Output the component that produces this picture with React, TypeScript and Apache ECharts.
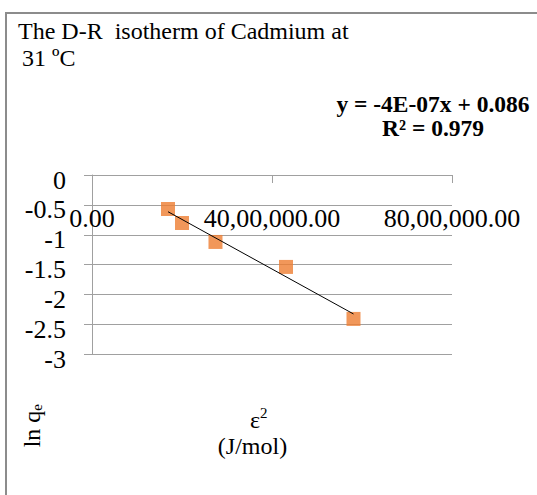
import React, { useEffect, useRef } from 'react';
import * as echarts from 'echarts';

// ---- data ----
const titleLines = ['The D-R  isotherm of Cadmium at', ' 31 ºC'];
const equationLines = ['y = -4E-07x + 0.086', 'R² = 0.979'];
const xAxisTitleMain = 'ε';
const xAxisTitleSup = '2';
const xAxisTitleUnit = '(J/mol)';
const yAxisTitleMain = 'ln q';
const yAxisTitleSub = 'e';

const epsilonSquared = [1689000, 2000000, 2744000, 4311000, 5811000];
const lnQe = [-0.569, -0.803, -1.12, -1.538, -2.408];

const xMin = 0;
const xMax = 8000000;
const xInterval = 4000000;
const yMin = -3;
const yMax = 0;
const yInterval = 0.5;

const FONT = 'Liberation Serif';

function indianFormat(v: number): string {
  const fixed = Math.abs(v).toFixed(2);
  const [intPart, dec] = fixed.split('.');
  let out = '';
  if (intPart.length <= 3) {
    out = intPart;
  } else {
    const last3 = intPart.slice(-3);
    let rest = intPart.slice(0, -3);
    const groups: string[] = [];
    while (rest.length > 2) {
      groups.unshift(rest.slice(-2));
      rest = rest.slice(0, -2);
    }
    if (rest.length) groups.unshift(rest);
    out = groups.join(',') + ',' + last3;
  }
  return (v < 0 ? '-' : '') + out + '.' + dec;
}

function linearFit(xs: number[], ys: number[]) {
  const n = xs.length;
  const mx = xs.reduce((a, b) => a + b, 0) / n;
  const my = ys.reduce((a, b) => a + b, 0) / n;
  let sxy = 0;
  let sxx = 0;
  for (let i = 0; i < n; i++) {
    sxy += (xs[i] - mx) * (ys[i] - my);
    sxx += (xs[i] - mx) * (xs[i] - mx);
  }
  const slope = sxy / sxx;
  return { slope, intercept: my - slope * mx };
}

export default function App() {
  const ref = useRef<HTMLDivElement>(null);

  useEffect(() => {
    if (!ref.current) return;
    const chart = echarts.init(ref.current, undefined, { renderer: 'svg' });
    const fit = linearFit(epsilonSquared, lnQe);
    const x0 = Math.min(...epsilonSquared);
    const x1 = Math.max(...epsilonSquared);
    const trend = [
      [x0, fit.slope * x0 + fit.intercept],
      [x1, fit.slope * x1 + fit.intercept],
    ];
    const scatterData = epsilonSquared.map((x, i) => [x, lnQe[i]]);
    const gridColor = '#a0a0a0';

    const txt = (text: string, x: number, y: number, size: number, align: string, extra: any = {}) => ({
      type: 'text',
      x,
      y,
      rotation: extra.rotation || 0,
      silent: true,
      style: {
        text,
        fill: '#000',
        fontSize: size,
        fontFamily: FONT,
        fontWeight: extra.bold ? 'bold' : 'normal',
        lineHeight: extra.lineHeight,
        align,
        verticalAlign: 'middle',
        rich: extra.rich,
      },
    });

    chart.setOption({
      animation: false,
      backgroundColor: '#ffffff',
      grid: { left: 92, top: 175, width: 360, height: 179.3, containLabel: false },
      xAxis: {
        type: 'value',
        min: xMin,
        max: xMax,
        interval: xInterval,
        position: 'top',
        axisLine: { show: true, onZero: false, lineStyle: { color: gridColor, width: 1 } },
        axisTick: { show: true, length: 8, inside: true, lineStyle: { color: gridColor } },
        axisLabel: {
          show: true,
          inside: true,
          margin: 30,
          fontSize: 26,
          fontFamily: FONT,
          color: '#000',
          formatter: (v: number) => indianFormat(v),
        },
        splitLine: { show: false },
      },
      yAxis: {
        type: 'value',
        min: yMin,
        max: yMax,
        interval: yInterval,
        axisLine: { show: true, onZero: false, lineStyle: { color: gridColor, width: 1 } },
        axisTick: { show: true, length: 8, inside: false, lineStyle: { color: gridColor } },
        axisLabel: {
          show: true,
          margin: 26,
          fontSize: 26,
          fontFamily: FONT,
          color: '#000',
          verticalAlign: 'top',
          lineHeight: 10,
        },
        splitLine: { show: true, lineStyle: { color: gridColor, width: 1 } },
      },
      series: [
        {
          type: 'scatter',
          data: scatterData,
          symbol: 'rect',
          symbolSize: 14,
          itemStyle: { color: '#ED7D31' },
          z: 2,
        },
        {
          type: 'line',
          data: trend,
          symbol: 'none',
          lineStyle: { color: '#000', width: 1 },
          z: 3,
        },
      ],
      graphic: [
        {
          type: 'rect',
          silent: true,
          shape: { x: 6, y: 13, width: 620, height: 600 },
          style: { fill: 'none', stroke: '#8c8c8c', lineWidth: 2 },
        },
        txt(titleLines[0], 18, 30.9, 24, 'left'),
        txt(titleLines[1], 16, 57.6, 24, 'left'),
        txt(equationLines.join('\n'), 433, 116.2, 23.5, 'center', { bold: true, lineHeight: 23.5 }),
        txt(`{m|${xAxisTitleMain}}{s|${xAxisTitleSup}}`, 250, 418.9, 24, 'left', {
          rich: {
            m: { fontSize: 24, fontFamily: FONT, lineHeight: 26, verticalAlign: 'bottom' },
            s: { fontSize: 15, fontFamily: FONT, lineHeight: 15, verticalAlign: 'top' },
          },
        }),
        txt(xAxisTitleUnit, 252.5, 446, 24, 'center'),
        txt(`{m|${yAxisTitleMain}}{s|${yAxisTitleSub}}`, 32.3, 447.3, 24, 'left', {
          rotation: Math.PI / 2,
          rich: {
            m: { fontSize: 24, fontFamily: FONT, lineHeight: 24, verticalAlign: 'top' },
            s: { fontSize: 15, fontFamily: FONT, lineHeight: 15, verticalAlign: 'bottom' },
          },
        }),
      ],
    });

    return () => chart.dispose();
  }, []);

  return (
    <div
      ref={ref}
      style={{ position: 'absolute', left: 0, top: 0, width: 537, height: 495, background: '#fff' }}
    />
  );
}
